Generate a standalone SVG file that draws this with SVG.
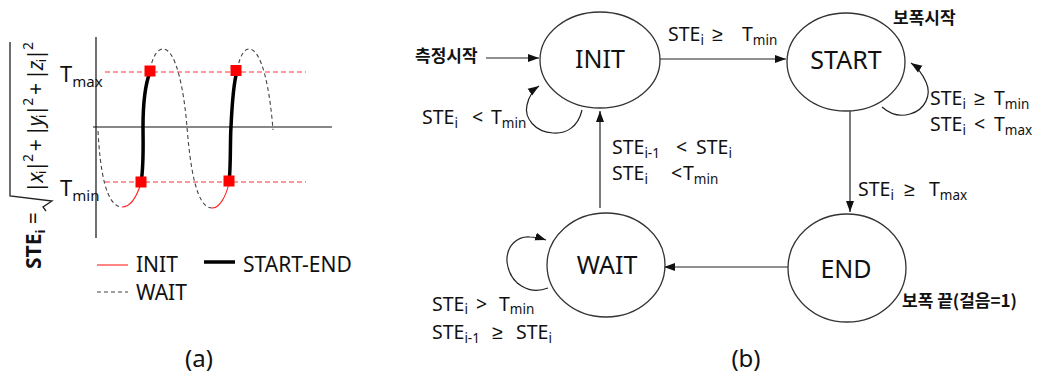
<svg xmlns="http://www.w3.org/2000/svg" width="1043" height="377" viewBox="0 0 1043 377">
  <style>
    text { font-family: "Noto Sans", "Liberation Sans", sans-serif; fill: #111; }
    .lbl { font-size: 19.5px; }
    .sub { font-size: 13.5px; }
    .st { font-size: 25px; text-anchor: middle; }
    .ko { font-family: "Noto Sans CJK KR", "Noto Sans", sans-serif; font-weight: bold; font-size: 17px; }
    .cap { font-size: 24px; text-anchor: middle; }
    .leg { font-size: 21px; }
    .axis { stroke: #111; stroke-width: 1.2; fill: none; }
    .thr { stroke: #f33; stroke-width: 1.2; stroke-dasharray: 5 3; fill: none; }
    .wait { stroke: #444; stroke-width: 1.1; stroke-dasharray: 4 3; fill: none; }
    .init { stroke: #f22; stroke-width: 1.1; fill: none; }
    .se { stroke: #000; stroke-width: 3.5; fill: none; }
    .node { fill: #fff; stroke: #333; stroke-width: 1.3; }
    .edge { stroke: #222; stroke-width: 1.2; fill: none; marker-end: url(#ah); }
  </style>
  <defs>
    <marker id="ah" markerWidth="12" markerHeight="10" refX="11" refY="5" orient="auto" markerUnits="userSpaceOnUse">
      <path d="M0,1 L11,5 L0,9 z" fill="#111"/>
    </marker>
  </defs>

  <!-- (a) signal plot -->
  <g id="plot">
    <line class="axis" x1="96" y1="37" x2="96" y2="238"/>
    <line class="axis" x1="93" y1="127" x2="332" y2="127"/>
    <line class="thr" x1="105" y1="72" x2="306" y2="72"/>
    <line class="thr" x1="105" y1="182" x2="306" y2="182"/>

    <path class="wait" d="M98,131 C100,170 106,207 122,207"/>
    <path class="init" d="M122,207 C131,207 137,196 141,183"/>
    <path class="se" d="M141,183 C144,165 143,140 143,127 C143,105 145,85 150,72"/>
    <path class="wait" d="M150,70 C153,55 158,49 163,49 C176,49 184,90 187,127 C190,165 196,208 212,208"/>
    <path class="init" d="M212,208 C220,208 226,196 229,183"/>
    <path class="se" d="M229,183 C231,165 230,140 231,127 C232,105 233,85 237,71"/>
    <path class="wait" d="M237,70 C240,56 244,49 249,49 C262,49 270,90 273,130"/>

    <rect x="144.5" y="65.5" width="11" height="11" fill="#f00"/>
    <rect x="230.5" y="65" width="11" height="11" fill="#f00"/>
    <rect x="135.5" y="176.5" width="11" height="11" fill="#f00"/>
    <rect x="223.5" y="175.5" width="11" height="11" fill="#f00"/>

    <text x="60" y="82" font-size="22">T<tspan font-size="15" dy="5">max</tspan></text>
    <text x="60" y="196" font-size="22">T<tspan font-size="15" dy="5">min</tspan></text>

    <!-- y-axis formula, drawn rotated -->
    <path d="M46,211 L43,207 L52,201 L10,196 L10,42" stroke="#222" stroke-width="1.3" fill="none"/>
    <text transform="translate(43,193) rotate(-90)" font-size="21" textLength="151" lengthAdjust="spacing">|<tspan font-style="italic">x</tspan><tspan font-size="13" dy="3">i</tspan><tspan dy="-3">|</tspan><tspan font-size="14" dy="-10">2</tspan><tspan dy="10"> + |</tspan><tspan font-style="italic">y</tspan><tspan font-size="13" dy="3">i</tspan><tspan dy="-3">|</tspan><tspan font-size="14" dy="-10">2</tspan><tspan dy="10"> + |</tspan><tspan font-style="italic">z</tspan><tspan font-size="13" dy="3">i</tspan><tspan dy="-3">|</tspan><tspan font-size="14" dy="-10">2</tspan></text>
    <text transform="translate(41,269) rotate(-90)" font-size="21" font-weight="bold">STE<tspan font-size="13" dy="4">i</tspan><tspan font-weight="normal" dy="-4"> =</tspan></text>

    <!-- legend -->
    <line class="init" x1="97" y1="265" x2="128" y2="265"/>
    <text class="leg" x="136" y="272">INIT</text>
    <line class="se" x1="204" y1="262" x2="235" y2="262"/>
    <text class="leg" x="243" y="272">START-END</text>
    <line class="wait" x1="97" y1="292" x2="128" y2="292"/>
    <text class="leg" x="136" y="300">WAIT</text>

    <text class="cap" x="199" y="367">(a)</text>
  </g>

  <!-- (b) state machine -->
  <g id="connectors">
    <line class="edge" x1="486" y1="58" x2="539" y2="58"/>
    <line class="edge" x1="660" y1="59" x2="786" y2="59"/>
    <line class="edge" x1="850" y1="111" x2="850" y2="212"/>
    <line class="edge" x1="788" y1="267" x2="664" y2="267"/>
    <line class="edge" x1="600" y1="208" x2="600" y2="111"/>
    <path class="edge" d="M582,110 C578,128 565,134 553,133 C535,132 524,118 527,105 C529,96 533,90 539,86"/>
    <path class="edge" d="M882,107 C890,114 900,117 910,114 C925,110 932,95 926,82 C922,73 917,67 911,63"/>
    <path class="edge" d="M548,288 C530,295 510,285 507,262 C506,245 518,236 530,237 C536,237 540,238 546,240"/>

    <text class="ko" x="415" y="62">측정시작</text>
    <text class="lbl" x="668" y="41">STE<tspan class="sub" dy="4">i</tspan><tspan x="712" dy="-4">≥</tspan><tspan x="742">T</tspan><tspan class="sub" dy="4">min</tspan></text>
    <text class="lbl" x="422" y="124">STE<tspan class="sub" dy="4">i</tspan><tspan x="472" dy="-4">&lt;</tspan><tspan x="491">T</tspan><tspan class="sub" dy="4">min</tspan></text>
    <text class="lbl" x="612" y="154">STE<tspan class="sub" dy="4">i-1</tspan><tspan x="676" dy="-4">&lt;</tspan><tspan x="696">STE</tspan><tspan class="sub" dy="4">i</tspan></text>
    <text class="lbl" x="612" y="180">STE<tspan class="sub" dy="4">i</tspan><tspan x="671" dy="-4">&lt;</tspan><tspan x="683">T</tspan><tspan class="sub" dy="4">min</tspan></text>
    <text class="lbl" x="930" y="105">STE<tspan class="sub" dy="4">i</tspan><tspan x="974" dy="-4">≥</tspan><tspan x="994">T</tspan><tspan class="sub" dy="4">min</tspan></text>
    <text class="lbl" x="930" y="131">STE<tspan class="sub" dy="4">i</tspan><tspan x="974" dy="-4">&lt;</tspan><tspan x="994">T</tspan><tspan class="sub" dy="4">max</tspan></text>
    <text class="lbl" x="858" y="196">STE<tspan class="sub" dy="4">i</tspan><tspan x="904" dy="-4">≥</tspan><tspan x="929">T</tspan><tspan class="sub" dy="4">max</tspan></text>
    <text class="lbl" x="432" y="311">STE<tspan class="sub" dy="3">i</tspan><tspan x="476" dy="-3">&gt;</tspan><tspan x="499">T</tspan><tspan class="sub" dy="3">min</tspan></text>
    <text class="lbl" x="432" y="339">STE<tspan class="sub" dy="4">i-1</tspan><tspan x="492" dy="-4">≥</tspan><tspan x="516">STE</tspan><tspan class="sub" dy="4">i</tspan></text>
  </g>

  <g id="INIT">
    <ellipse class="node" cx="600" cy="60" rx="60" ry="48"/>
    <text class="st" x="600" y="68">INIT</text>
  </g>
  <g id="START">
    <ellipse class="node" cx="846" cy="62" rx="59" ry="49"/>
    <text class="st" x="846" y="69">START</text>
    <text class="ko" x="893" y="24">보폭시작</text>
  </g>
  <g id="WAIT">
    <ellipse class="node" cx="606" cy="265" rx="59" ry="52"/>
    <text class="st" x="607" y="274">WAIT</text>
  </g>
  <g id="END">
    <ellipse class="node" cx="847" cy="268" rx="59" ry="54"/>
    <text class="st" x="846" y="278">END</text>
    <text class="ko" x="902" y="307" font-size="18">보폭 끝(걸음=1)</text>
  </g>

  <text class="cap" x="746" y="367">(b)</text>
</svg>
